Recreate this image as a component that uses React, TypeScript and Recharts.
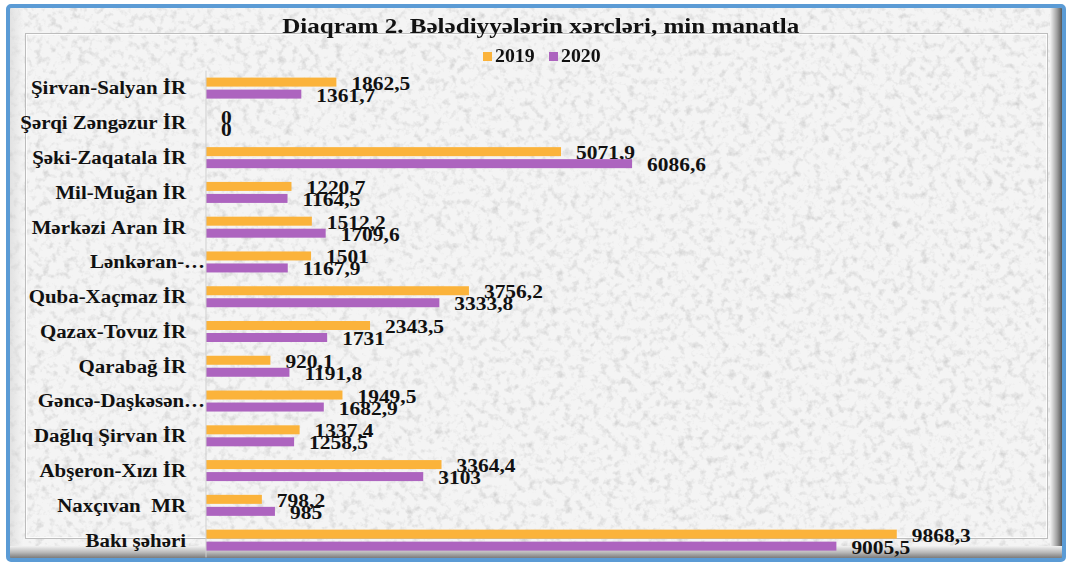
import React from 'react'
import { Bar, BarChart, XAxis, YAxis } from 'recharts'

const regions = [
  'Şirvan-Salyan İR',
  'Şərqi Zəngəzur İR',
  'Şəki-Zaqatala İR',
  'Mil-Muğan İR',
  'Mərkəzi Aran İR',
  'Lənkəran-…',
  'Quba-Xaçmaz İR',
  'Qazax-Tovuz İR',
  'Qarabağ İR',
  'Gəncə-Daşkəsən…',
  'Dağlıq Şirvan İR',
  'Abşeron-Xızı İR',
  'Naxçıvan  MR',
  'Bakı şəhəri',
]

const values2019 = [1862.5, 0, 5071.9, 1220.7, 1512.2, 1501, 3756.2, 2343.5, 920.1, 1949.5, 1337.4, 3364.4, 798.2, 9868.3]
const values2020 = [1361.7, 0, 6086.6, 1164.5, 1709.6, 1167.9, 3333.8, 1731, 1191.8, 1682.9, 1258.5, 3103, 985, 9005.5]

const series = [
  { key: 'y2019', name: '2019', color: '#fbb33b' },
  { key: 'y2020', name: '2020', color: '#ad64bf' },
]

const data = regions.map((name, i) => ({
  name,
  y2019: values2019[i],
  y2020: values2020[i],
}))

const FONT = '"Liberation Serif", "Times New Roman", serif'
const STRETCH = 1.1

const fmt = (v: number) => String(v).replace('.', ',')

const RegionTick = (props: any) => {
  const { y, payload } = props
  const label: string = payload.value
  // truncated names sit closer to the axis line
  const right = label.endsWith('…') ? 205 : 186
  return (
    <g transform={`translate(${right},${y + 6.5}) scale(${STRETCH},1)`}>
      <text
        x={0}
        y={0}
        textAnchor="end"
        style={{ fontFamily: FONT, fontWeight: 'bold', fontSize: 19, fill: '#111' }}
      >
        {label.replace(/ /g, '\u00a0')}
      </text>
    </g>
  )
}

// bar + its value label, drawn together so zero bars still get a label
const BarWithLabel = (props: any) => {
  const { x, y, width, height, fill, value } = props
  const w = Number.isFinite(width) ? Math.max(width, 0) : 0
  const v = Array.isArray(value) ? value[1] - value[0] : value
  const lx = x + w + 15
  const ly = y + height / 2 + 7.5
  return (
    <g>
      {w > 0 && <rect x={x} y={y} width={w} height={height} fill={fill} />}
      <g transform={`translate(${lx},${ly}) scale(${STRETCH},1)`}>
        <text x={0} y={0} style={{ fontFamily: FONT, fontWeight: 'bold', fontSize: 19.5, fill: '#111' }}>
          {fmt(v)}
        </text>
      </g>
    </g>
  )
}

const LegendBox = () => (
  <div
    style={{
      position: 'absolute',
      left: 0,
      top: 46,
      width: 1070,
      display: 'flex',
      justifyContent: 'center',
      gap: 14,
      paddingLeft: 14,
      boxSizing: 'border-box',
    }}
  >
    {series.map((s) => (
      <div key={s.key} style={{ display: 'flex', alignItems: 'center', gap: 3 }}>
        <div style={{ width: 9, height: 9, background: s.color }} />
        <span
          style={{
            fontFamily: FONT,
            fontWeight: 'bold',
            fontSize: 18,
            color: '#111',
            display: 'inline-block',
            transform: `scale(${STRETCH},1)`,
            transformOrigin: 'left center',
            width: 40,
          }}
        >
          {s.name}
        </span>
      </div>
    ))}
  </div>
)

const Frame = () => (
  <svg width={1070} height={565} style={{ position: 'absolute', left: 0, top: 0 }}>
    <defs>
      <filter id="stone" x="0" y="0" width="100%" height="100%">
        <feTurbulence type="fractalNoise" baseFrequency="0.14" numOctaves="3" seed="7" />
        <feColorMatrix
          type="matrix"
          values="0 0 0 0 0.55  0 0 0 0 0.55  0 0 0 0 0.55  2.2 0 0 0 -1.08"
        />
      </filter>
      <linearGradient id="rightBevel" x1="0" x2="1" y1="0" y2="0">
        <stop offset="0" stopColor="#f4f4f4" />
        <stop offset="0.5" stopColor="#a0a0a0" />
        <stop offset="1" stopColor="#3a3a3a" />
      </linearGradient>
      <linearGradient id="bottomBevel" x1="0" x2="0" y1="0" y2="1">
        <stop offset="0" stopColor="#f2f2f2" />
        <stop offset="0.5" stopColor="#b8b8b8" />
        <stop offset="1" stopColor="#707070" />
      </linearGradient>
      <linearGradient id="leftBevel" x1="0" x2="1" y1="0" y2="0">
        <stop offset="0" stopColor="#cfcfcf" />
        <stop offset="1" stopColor="#f6f6f6" />
      </linearGradient>
    </defs>
    <rect x={8} y={6} width={1056} height={554} fill="#f4f4f4" />
    <rect x={8} y={6} width={1056} height={554} filter="url(#stone)" opacity={0.75} />
    <rect x={10} y={8} width={14} height={548} fill="url(#leftBevel)" opacity={0.5} />
    <rect x={1050} y={8} width={14} height={550} fill="url(#rightBevel)" />
    <rect x={10} y={546} width={1054} height={13} fill="url(#bottomBevel)" />
    <rect x={25.5} y={33.5} width={1022} height={505} fill="none" stroke="#bdbdbd" strokeWidth={1} />
    <rect x={26.5} y={34.5} width={1020} height={503} fill="none" stroke="#ffffff" strokeWidth={1} opacity={0.8} />
    <rect x={8} y={6} width={1056} height={554} rx={3} fill="none" stroke="#5b9bd5" strokeWidth={4} />
  </svg>
)

export default function App() {
  return (
    <div style={{ position: 'absolute', left: 0, top: 0, width: 1070, height: 565, overflow: 'hidden' }}>
      <Frame />
      <div
        style={{
          position: 'absolute',
          left: 0,
          top: 13,
          width: 1070,
          textAlign: 'center',
          fontFamily: FONT,
          fontWeight: 'bold',
          fontSize: 22,
          color: '#111',
          paddingLeft: 12,
          boxSizing: 'border-box',
        }}
      >
        <span style={{ display: 'inline-block', transform: 'scale(1.14,1)' }}>
          Diaqram 2. Bələdiyyələrin xərcləri, min manatla
        </span>
      </div>
      <LegendBox />
      <div style={{ position: 'absolute', left: 0, top: 0 }}>
        <BarChart
          width={1070}
          height={565}
          data={data}
          layout="vertical"
          margin={{ top: 70.6, right: 24, bottom: 7.6, left: 10 }}
          barSize={9}
          barGap={3}
        >
          <XAxis type="number" domain={[0, 12000]} hide />
          <YAxis
            type="category"
            dataKey="name"
            width={196}
            axisLine={{ stroke: '#cfcfcf' }}
            tickLine={false}
            tick={<RegionTick />}
            interval={0}
          />
          {series.map((s) => (
            <Bar
              key={s.key}
              dataKey={s.key}
              name={s.name}
              fill={s.color}
              isAnimationActive={false}
              shape={<BarWithLabel />}
            />
          ))}
        </BarChart>
      </div>
    </div>
  )
}
